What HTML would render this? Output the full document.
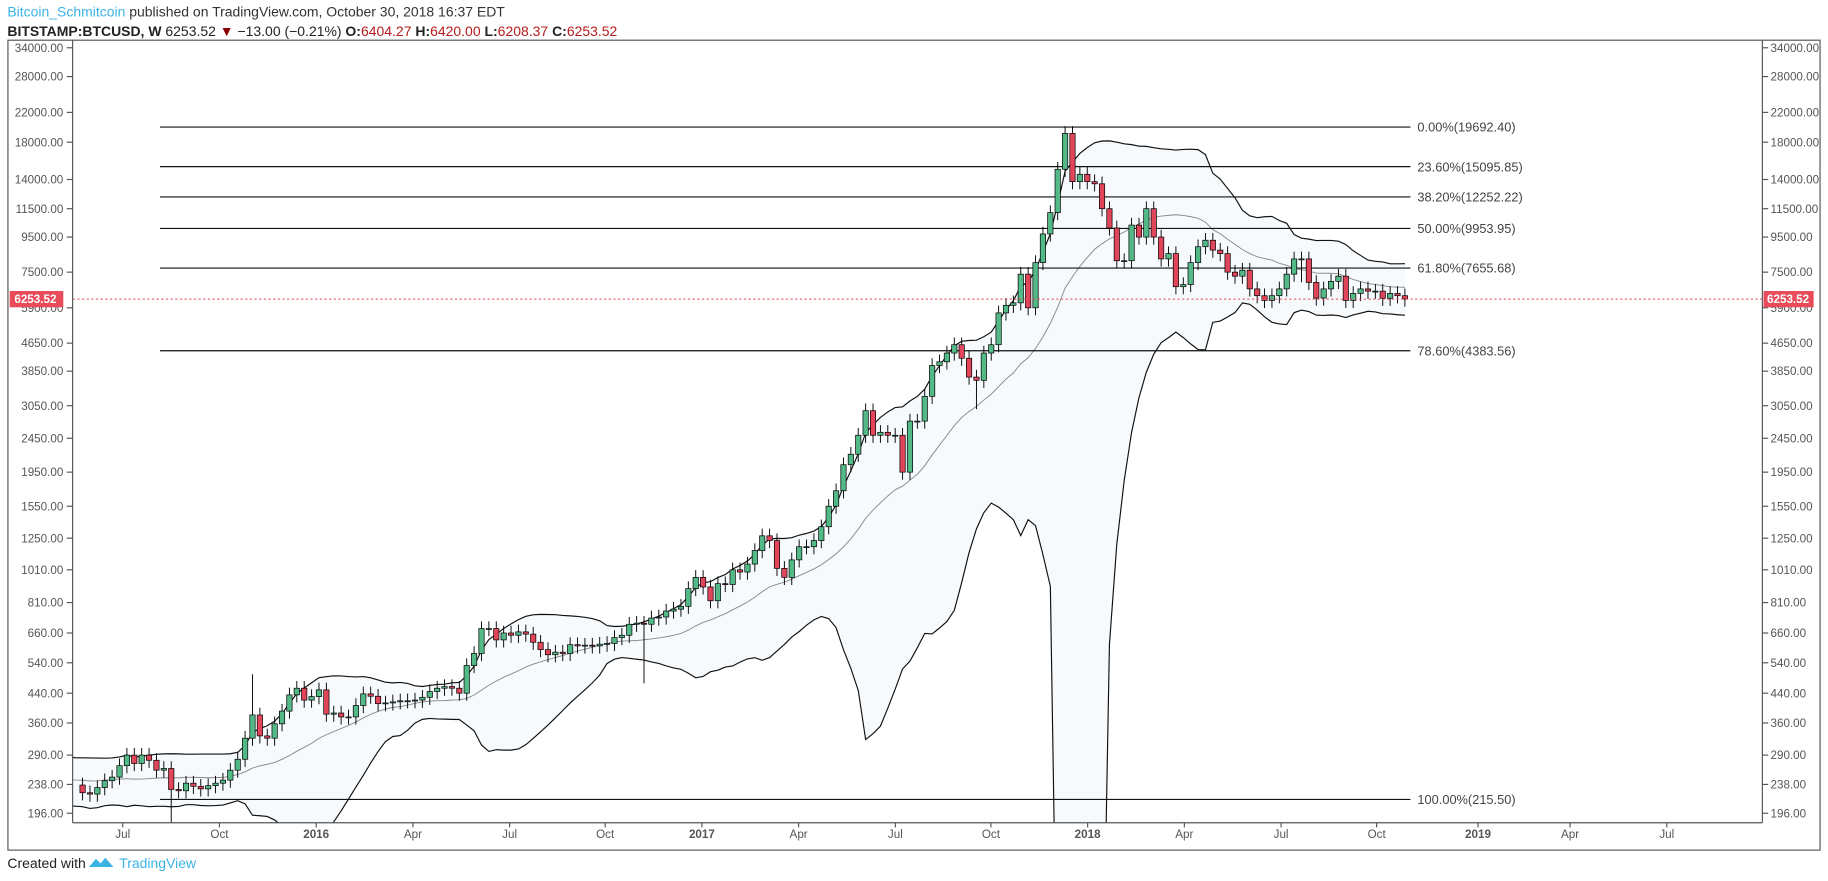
<!DOCTYPE html>
<html><head><meta charset="utf-8"><style>
html,body{margin:0;padding:0;background:#fff;width:1828px;height:881px;overflow:hidden;}
svg{display:block;}
text{font-family:"Liberation Sans",Arial,sans-serif;}
</style></head><body>
<svg id="s" width="1828" height="881" viewBox="0 0 1568 756" xmlns="http://www.w3.org/2000/svg">
<rect width="1568" height="756" fill="#fff"/>
<text x="6" y="14" font-size="12" fill="#333"><tspan fill="#3bb3e4">Bitcoin_Schmitcoin</tspan> published on TradingView.com, October 30, 2018 16:37 EDT</text>
<text x="6" y="31" font-size="12" fill="#222"><tspan font-weight="bold">BITSTAMP:BTCUSD, W</tspan> 6253.52 <tspan fill="#8b0000">▼</tspan> −13.00 (−0.21%) <tspan font-weight="bold">O:</tspan><tspan fill="#b71c1c">6404.27</tspan> <tspan font-weight="bold">H:</tspan><tspan fill="#b71c1c">6420.00</tspan> <tspan font-weight="bold">L:</tspan><tspan fill="#b71c1c">6208.37</tspan> <tspan font-weight="bold">C:</tspan><tspan fill="#b71c1c">6253.52</tspan></text>
<defs><clipPath id="cp"><rect x="62" y="34" width="1450" height="672"/></clipPath></defs>
<g id="plot" clip-path="url(#cp)"></g>
<g id="ax"></g>
<rect x="6.5" y="34.5" width="1555" height="695" fill="none" stroke="#555" stroke-width="1"/>
<line x1="62" y1="34" x2="62" y2="706" stroke="#555"/>
<line x1="1512" y1="34" x2="1512" y2="706" stroke="#555"/>
<line x1="62" y1="706" x2="1512" y2="706" stroke="#555"/>
<text x="6" y="745" font-size="12" fill="#222">Created with</text>
<path d="M76 744 l6 -7 l4 4 l4 -5 l7 8 z" fill="#3bb3e4"/>
<text x="102" y="745" font-size="12" fill="#3bb3e4">TradingView</text>
</svg>
<script>
const NS="http://www.w3.org/2000/svg";
const plot=document.getElementById('plot'),ax=document.getElementById('ax');
function el(p,t,a,txt){const e=document.createElementNS(NS,t);for(const k in a)e.setAttribute(k,a[k]);if(txt!==undefined)e.textContent=txt;p.appendChild(e);return e;}
const Y=v=>41+(10.434-Math.log(Math.max(v,1)))*127.4;
const X=d=>258+d*0.9056;
const ticks=[34000,28000,22000,18000,14000,11500,9500,7500,5900,4650,3850,3050,2450,1950,1550,1250,1010,810,660,540,440,360,290,238,196];
for(const t of ticks){const y=Y(t);
 el(ax,'line',{x1:57,y1:y,x2:62,y2:y,stroke:'#555'});
 el(ax,'line',{x1:1512,y1:y,x2:1517,y2:y,stroke:'#555'});
 el(ax,'text',{x:54,y:y+3.5,'font-size':10,fill:'#555','text-anchor':'end'},t.toFixed(2));
 el(ax,'text',{x:1519,y:y+3.5,'font-size':10,fill:'#555'},t.toFixed(2));}
const xl=[[105,'Jul'],[188,'Oct'],[271,'2016',1],[354,'Apr'],[437,'Jul'],[519,'Oct'],[602,'2017',1],[685,'Apr'],[768,'Jul'],[850,'Oct'],[933,'2018',1],[1016,'Apr'],[1099,'Jul'],[1181,'Oct'],[1268,'2019',1],[1347,'Apr'],[1430,'Jul']];
for(const [x,t,b] of xl){el(ax,'line',{x1:x,y1:706,x2:x,y2:710,stroke:'#555'});
 el(ax,'text',{x:x,y:719,'font-size':10,fill:'#555','text-anchor':'middle','font-weight':b?'bold':'normal'},t);}
const c=[315,270,230,250,225,220,235,255,275,290,285,265,245,255,235,225,222,235,240,242,236,237,
225,223,233,244,250,270,290,274,290,280,262,265,230,228,240,235,231,236,240,245,262,282,325,380,330,325,358,390,435,455,420,430,
450,382,385,375,375,405,438,431,410,412,415,418,418,420,428,445,455,460,455,440,530,575,680,680,630,660,650,665,655,620,590,570,580,575,610,605,608,605,612,615,640,650,700,705,700,730,735,765,775,790,890,960,
900,820,920,915,1010,995,1050,1150,1270,1230,1020,960,1080,1180,1180,1230,1350,1550,1720,2050,2200,2500,2950,2500,2550,2500,2500,1950,2750,2750,3250,4000,4100,4350,4600,4200,3700,3620,4350,4600,5700,6000,6100,7400,5900,8000,9700,11200,15000,19100,13800,14500,
13800,13600,11500,10100,8100,8100,10300,9500,11500,9500,8200,8500,6800,6900,8000,8900,9300,8700,8500,7500,7300,7600,6700,6400,6200,6400,6700,7400,8200,8200,7000,6300,6700,7050,7300,6200,6500,6700,6600,6600,6290,6500,6400,6253.52];
const d0=-361;
const up=[],lo=[],mid=[];
for(let i=0;i<c.length;i++){const s=c.slice(Math.max(0,i-19),i+1);const m=s.reduce((a,b)=>a+b,0)/s.length;
 const sd=Math.sqrt(s.reduce((a,b)=>a+(b-m)*(b-m),0)/s.length);up.push(m+2*sd);lo.push(m-2*sd);mid.push(m);}
const st=18;
let pu=[],pl=[],pm=[];
for(let i=st;i<c.length;i++){const x=X(d0+i*7);pu.push(x.toFixed(1)+','+Y(up[i]).toFixed(1));pl.push(x.toFixed(1)+','+Math.min(Y(lo[i]),900).toFixed(1));pm.push(x.toFixed(1)+','+Y(mid[i]).toFixed(1));}
el(plot,'polygon',{points:pu.concat(pl.slice().reverse()).join(' '),fill:'#f6fafd'});
el(plot,'polyline',{points:pu.join(' '),fill:'none',stroke:'#111','stroke-width':1});
el(plot,'polyline',{points:pl.join(' '),fill:'none',stroke:'#111','stroke-width':1});
el(plot,'polyline',{points:pm.join(' '),fill:'none',stroke:'#888','stroke-width':0.8});
const fib=[[109,'0.00%(19692.40)'],[143,'23.60%(15095.85)'],[169,'38.20%(12252.22)'],[196,'50.00%(9953.95)'],[230,'61.80%(7655.68)'],[301,'78.60%(4383.56)'],[686,'100.00%(215.50)']];
for(const [y,t] of fib){el(plot,'line',{x1:137,y1:y,x2:1210,y2:y,stroke:'#111','stroke-width':1});
 el(ax,'text',{x:1216,y:y+4,'font-size':11,fill:'#444'},t);}
const sp={34:[null,162],45:[500,null],98:[null,470],183:[null,5900],187:[null,7000],143:[null,2980]};
for(let i=22;i<c.length;i++){const o=c[i-1],cl=c[i];const x=X(d0+i*7);
 let h=Math.max(o,cl)*1.05,l=Math.min(o,cl)*0.95;if(sp[i]){if(sp[i][0])h=sp[i][0];if(sp[i][1])l=sp[i][1];}
 el(plot,'line',{x1:x,y1:Y(h),x2:x,y2:Y(l),stroke:'#000','stroke-width':0.8});
 const y1=Y(Math.max(o,cl)),y2=Y(Math.min(o,cl));
 el(plot,'rect',{x:x-2.3,y:y1,width:4.6,height:Math.max(y2-y1,0.8),fill:cl>=o?'#53b987':'#e0455a',stroke:'#000','stroke-width':0.6});}
const py=Y(6253.52);
el(plot,'line',{x1:62,y1:py,x2:1512,y2:py,stroke:'#e84b5a','stroke-width':0.8,'stroke-dasharray':'2,2'});
el(ax,'rect',{x:1513,y:py-7,width:43,height:14,fill:'#e84b5a'});
el(ax,'text',{x:1516,y:py+3.5,'font-size':10,fill:'#fff','font-weight':'bold'},'6253.52');
el(ax,'rect',{x:8,y:py-7,width:46,height:14,fill:'#e84b5a'});
el(ax,'text',{x:12,y:py+3.5,'font-size':10,fill:'#fff','font-weight':'bold'},'6253.52');
</script>
</body></html>
